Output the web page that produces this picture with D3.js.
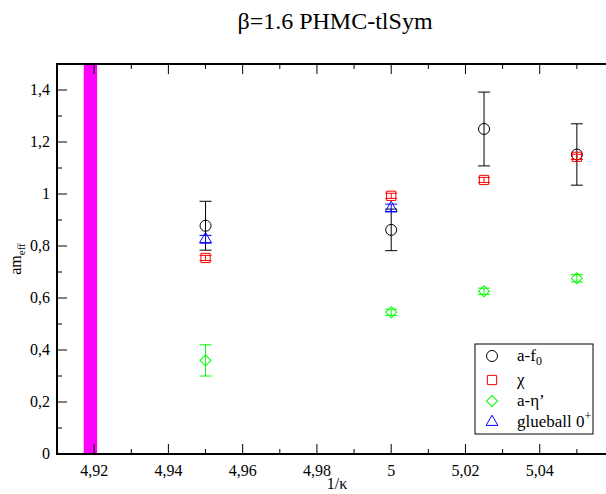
<!DOCTYPE html>
<html lang="en">
<head>
  <meta charset="UTF-8">
  <title>beta=1.6 PHMC-tlSym</title>
  <script src="https://d3js.org/d3.v7.min.js"></script>
  <style>
    body { margin: 0; background: #fff; }
  </style>
</head>
<body>
  <svg width="606" height="494"></svg>
  <script>
  // data
  const kappaInv = [4.95, 5.0, 5.025, 5.05];
  const af0 = [0.878, 0.862, 1.250, 1.152];
  const af0Err = [0.094, 0.080, 0.142, 0.118];
  const chi = [0.754, 0.993, 1.054, 1.143];
  const chiErr = [0.010, 0.010, 0.010, 0.010];
  const aEta = [0.360, 0.545, 0.626, 0.676];
  const aEtaErr = [0.060, 0.012, 0.012, 0.014];
  const glueX = [4.95, 5.0];
  const glue = [0.826, 0.946];
  const glueErr = [0.015, 0.015];
  const band = [4.9172, 4.9208];
  const xTicks = [4.92, 4.94, 4.96, 4.98, 5.0, 5.02, 5.04];
  const yTicks = [0, 0.2, 0.4, 0.6, 0.8, 1.0, 1.2, 1.4];

  const margin = { top: 64, right: -8, bottom: 40, left: 57 };
  const W = 606, H = 494;
  const width = W - margin.left - margin.right;
  const height = H - margin.top - margin.bottom;
  const serif = "Liberation Serif";

  const svg = d3.select("svg").style("font-family", serif);
  const g = svg.append("g").attr("transform", `translate(${margin.left},${margin.top})`);

  const x = d3.scaleLinear().domain([4.91, 5.06]).range([0, width]);
  const y = d3.scaleLinear().domain([0, 1.5]).range([height, 0]);
  const fmt = d => String(+d.toFixed(2)).replace(".", ",");

  // magenta band
  g.append("rect")
    .attr("x", x(band[0]))
    .attr("y", 0)
    .attr("width", x(band[1]) - x(band[0]))
    .attr("height", height)
    .attr("fill", "#ff00ff");

  // axes (ticks inside)
  const xMinor = d3.range(4.91, 5.065, 0.01);
  const yMinor = d3.range(0, 1.55, 0.1);
  const ax = g.append("g").attr("stroke", "#000").attr("fill", "none");
  ax.selectAll(".xb").data(xMinor).join("line")
    .attr("x1", d => x(d)).attr("x2", d => x(d))
    .attr("y1", height).attr("y2", (d, i) => height - (i % 2 ? 10 : 5));
  ax.selectAll(".xt").data(xMinor).join("line")
    .attr("x1", d => x(d)).attr("x2", d => x(d))
    .attr("y1", 0).attr("y2", (d, i) => (i % 2 ? 10 : 5));
  ax.selectAll(".yl").data(yMinor).join("line")
    .attr("y1", d => y(d)).attr("y2", d => y(d))
    .attr("x1", 0).attr("x2", (d, i) => (i % 2 ? 5 : 10));
  ax.append("rect")
    .attr("x", 0).attr("y", 0).attr("width", width).attr("height", height)
    .attr("stroke-width", 2);

  g.selectAll(".xlab").data(xTicks).join("text")
    .attr("x", d => x(d)).attr("y", height + 22)
    .attr("text-anchor", "middle").attr("font-size", 16)
    .style("font-family", serif)
    .text(fmt);
  g.selectAll(".ylab").data(yTicks).join("text")
    .attr("x", -7).attr("y", d => y(d) + 5)
    .attr("text-anchor", "end").attr("font-size", 16)
    .style("font-family", serif)
    .text(fmt);

  // titles
  svg.append("text").attr("x", 335).attr("y", 29)
    .attr("text-anchor", "middle").attr("font-size", 24)
    .style("font-family", serif)
    .text("β=1.6 PHMC-tlSym");
  svg.append("text").attr("x", 337).attr("y", 489)
    .attr("text-anchor", "middle").attr("font-size", 16)
    .style("font-family", serif)
    .text("1/κ");
  const yl = svg.append("text")
    .attr("transform", "translate(21,259) rotate(-90)")
    .attr("text-anchor", "middle").attr("font-size", 16)
    .style("font-family", serif);
  yl.append("tspan").text("am");
  yl.append("tspan").attr("dy", 4).attr("font-size", 11).text("eff");

  // symbols
  const sym = {
    circle: { d: d3.symbol(d3.symbolCircle, 95)(), rot: 0 },
    square: { d: d3.symbol(d3.symbolSquare, 85)(), rot: 0 },
    diamond: { d: d3.symbol(d3.symbolSquare, 60)(), rot: 45 },
    triangle: { d: d3.symbol(d3.symbolTriangle, 60)(), rot: 0 }
  };

  const series = [
    { xs: kappaInv, ys: af0, es: af0Err, color: "#000000", shape: "circle" },
    { xs: kappaInv, ys: chi, es: chiErr, color: "#ff0000", shape: "square" },
    { xs: kappaInv, ys: aEta, es: aEtaErr, color: "#00ff00", shape: "diamond" },
    { xs: glueX, ys: glue, es: glueErr, color: "#0000ff", shape: "triangle" }
  ];

  series.forEach(s => {
    const pts = s.xs.map((xv, i) => ({ x: xv, y: s.ys[i], e: s.es[i] }));
    const sg = g.append("g").attr("stroke", s.color).attr("fill", "none").attr("stroke-width", 1);
    sg.selectAll(".eb").data(pts).join("line")
      .attr("x1", d => x(d.x)).attr("x2", d => x(d.x))
      .attr("y1", d => y(d.y - d.e)).attr("y2", d => y(d.y + d.e));
    sg.selectAll(".ct").data(pts).join("line")
      .attr("x1", d => x(d.x) - 6).attr("x2", d => x(d.x) + 6)
      .attr("y1", d => y(d.y + d.e)).attr("y2", d => y(d.y + d.e));
    sg.selectAll(".cb").data(pts).join("line")
      .attr("x1", d => x(d.x) - 6).attr("x2", d => x(d.x) + 6)
      .attr("y1", d => y(d.y - d.e)).attr("y2", d => y(d.y - d.e));
    sg.selectAll(".pt").data(pts).join("path")
      .attr("transform", d => `translate(${x(d.x)},${y(d.y)}) rotate(${sym[s.shape].rot})`)
      .attr("d", sym[s.shape].d);
  });

  // legend
  const lg = svg.append("g").attr("transform", "translate(475,344)");
  lg.append("rect").attr("width", 118).attr("height", 90)
    .attr("fill", "#fff").attr("stroke", "#000").attr("stroke-width", 1);
  const rows = [12, 36, 57, 78];
  series.forEach((s, i) => {
    lg.append("path")
      .attr("transform", `translate(17,${rows[i]}) rotate(${sym[s.shape].rot})`)
      .attr("d", sym[s.shape].d)
      .attr("fill", "none").attr("stroke", s.color);
  });
  const lt = (i) => lg.append("text").attr("x", 42).attr("y", rows[i] + 5)
    .attr("font-size", 17).style("font-family", serif);
  const t0 = lt(0); t0.append("tspan").text("a-f"); t0.append("tspan").attr("dy", 4).attr("font-size", 12).text("0");
  lt(1).text("χ");
  lt(2).text("a-η’");
  const t3 = lt(3); t3.append("tspan").text("glueball 0"); t3.append("tspan").attr("dy", -7).attr("font-size", 12).text("+");
  </script>
</body>
</html>
